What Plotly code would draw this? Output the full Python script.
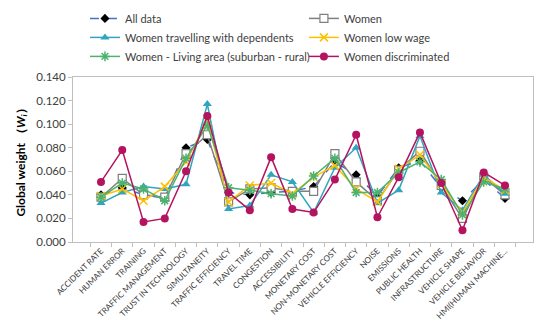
import plotly.graph_objects as go

categories = ["ACCIDENT RATE", "HUMAN ERROR", "TRAINING", "TRAFFIC MANAGEMENT",
              "TRUST IN TECHNOLOGY", "SIMULTANEITY", "TRAFFIC EFFICIENCY", "TRAVEL TIME",
              "CONGESTION", "ACCESSIBILITY", "MONETARY COST", "NON-MONETARY COST",
              "VEHICLE EFFICIENCY", "NOISE", "EMISSIONS", "PUBLIC HEALTH",
              "INFRASTRUCTURE", "VEHICLE SHAPE", "VEHICLE BEHAVIOR", "HMI(HUMAN MACHINE..."]

all_data = [0.040, 0.046, 0.040, 0.037, 0.080, 0.087, 0.042, 0.040, 0.042, 0.043,
            0.047, 0.068, 0.057, 0.039, 0.063, 0.069, 0.046, 0.035, 0.053, 0.037]
women = [0.038, 0.054, 0.040, 0.038, 0.075, 0.091, 0.034, 0.045, 0.046, 0.043,
         0.043, 0.075, 0.051, 0.035, 0.061, 0.077, 0.048, 0.020, 0.055, 0.040]
women_dependents = [0.033, 0.042, 0.047, 0.045, 0.049, 0.117, 0.028, 0.031, 0.057, 0.051,
                    0.025, 0.063, 0.080, 0.033, 0.044, 0.090, 0.042, 0.027, 0.057, 0.041]
women_low_wage = [0.039, 0.045, 0.035, 0.047, 0.068, 0.103, 0.034, 0.048, 0.050, 0.041,
                  0.055, 0.065, 0.045, 0.034, 0.062, 0.074, 0.049, 0.025, 0.055, 0.044]
women_living_area = [0.038, 0.050, 0.045, 0.035, 0.071, 0.099, 0.046, 0.044, 0.041, 0.039,
                     0.056, 0.071, 0.042, 0.042, 0.059, 0.068, 0.053, 0.023, 0.051, 0.045]
women_discriminated = [0.051, 0.078, 0.017, 0.020, 0.060, 0.107, 0.042, 0.027, 0.072, 0.028,
                       0.025, 0.053, 0.091, 0.021, 0.055, 0.093, 0.050, 0.010, 0.059, 0.048]

y_ticks = [0.0, 0.02, 0.04, 0.06, 0.08, 0.10, 0.12, 0.14]

fig = go.Figure()

fig.add_trace(go.Scatter(x=categories, y=all_data, name="All data", mode="lines+markers",
                         legend="legend",
                         line=dict(color="#4472C4", width=1.5, dash="dash"),
                         marker=dict(symbol="diamond", size=7, color="black")))
fig.add_trace(go.Scatter(x=categories, y=women, name="Women", mode="lines+markers",
                         legend="legend2",
                         line=dict(color="#7F7F7F", width=1.5),
                         marker=dict(symbol="square", size=8, color="white",
                                     line=dict(color="#7F7F7F", width=1.2))))
fig.add_trace(go.Scatter(x=categories, y=women_dependents, name="Women travelling with dependents",
                         mode="lines+markers", legend="legend",
                         line=dict(color="#2FA5C0", width=1.5),
                         marker=dict(symbol="triangle-up", size=8, color="#2FA5C0")))
fig.add_trace(go.Scatter(x=categories, y=women_low_wage, name="Women low wage", mode="lines+markers",
                         legend="legend2",
                         line=dict(color="#FFC000", width=1.5),
                         marker=dict(symbol="x-thin-open", size=8,
                                     line=dict(color="#FFC000", width=1.5))))
fig.add_trace(go.Scatter(x=categories, y=women_living_area, name="Women - Living area (suburban - rural)",
                         mode="lines+markers", legend="legend",
                         line=dict(color="#4CB36F", width=1.5),
                         marker=dict(symbol="asterisk-open", size=8,
                                     line=dict(color="#4CB36F", width=1.5))))
fig.add_trace(go.Scatter(x=categories, y=women_discriminated, name="Women discriminated",
                         mode="lines+markers", legend="legend2",
                         line=dict(color="#B5135F", width=1.5),
                         marker=dict(symbol="circle", size=8, color="#B5135F")))

legend_common = dict(orientation="v", yanchor="top", y=1.443, xanchor="left",
                     font=dict(size=11, color="#404040"), bgcolor="rgba(0,0,0,0)",
                     tracegroupgap=0)

# page body has an 8px margin, so the figure is sized to fill the window exactly
fig.update_layout(
    width=542, height=314,
    margin=dict(l=65, r=17, t=69, b=80, autoexpand=False),
    paper_bgcolor="white", plot_bgcolor="white",
    font=dict(family="Lato, Open Sans, sans-serif", color="#404040"),
    showlegend=True,
    legend=dict(x=0.026, **legend_common),
    legend2=dict(x=0.502, **legend_common),
    xaxis=dict(type="category", tickangle=-45, tickfont=dict(size=8.2, color="#404040"),
               showline=True, linecolor="#BFBFBF", mirror=True, ticks="outside",
               tickson="boundaries", ticklen=4, tickcolor="#BFBFBF", showgrid=False,
               automargin=False),
    yaxis=dict(range=[0, 0.14], tickvals=y_ticks, tickformat=".3f",
               tickfont=dict(size=11.5, color="#404040"),
               showline=True, linecolor="#BFBFBF", mirror=True, ticks="outside",
               ticklen=4, tickcolor="#BFBFBF", showgrid=False, zeroline=False,
               automargin=False,
               title=dict(text="<b>Global weight （<i>W</i><sub><i>i</i></sub>）</b>",
                          font=dict(size=12, color="#000000"), standoff=8)),
)

fig.write_html("out.html")
